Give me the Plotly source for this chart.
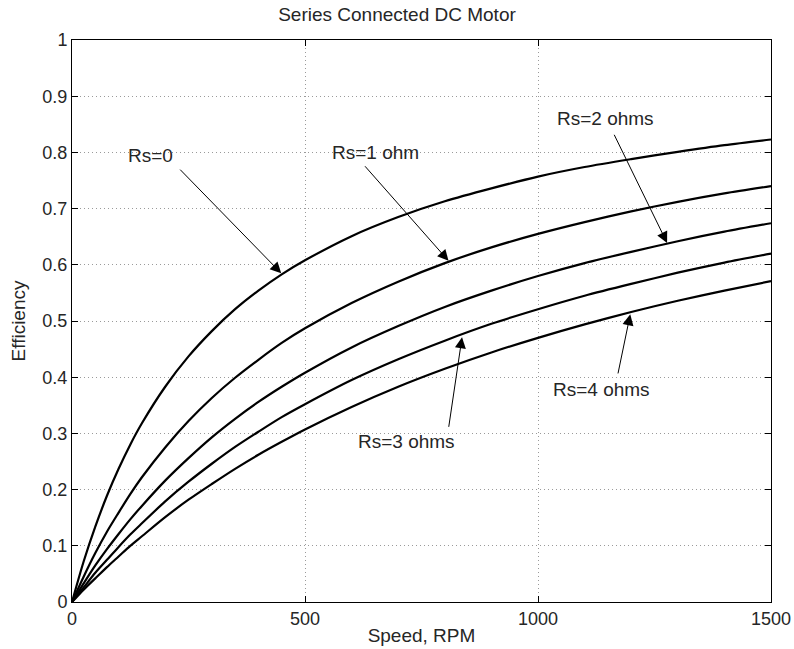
import plotly.graph_objects as go

speed = [0, 25, 50, 75, 100, 125, 150, 200, 250, 300, 350, 400, 450, 500, 600, 700, 800, 900,
         1000, 1100, 1200, 1300, 1400, 1500]
eff_rs0 = [0, 0.072, 0.134, 0.189, 0.237, 0.280, 0.318, 0.383, 0.437, 0.482, 0.521, 0.554, 0.583, 0.608,
           0.651, 0.685, 0.713, 0.736, 0.757, 0.774, 0.788, 0.801, 0.813, 0.823]
eff_rs1 = [0, 0.045, 0.087, 0.125, 0.159, 0.192, 0.222, 0.275, 0.322, 0.363, 0.399, 0.431, 0.461, 0.487,
           0.532, 0.570, 0.603, 0.631, 0.655, 0.676, 0.695, 0.712, 0.727, 0.740]
eff_rs2 = [0, 0.033, 0.065, 0.094, 0.121, 0.147, 0.171, 0.216, 0.256, 0.293, 0.326, 0.356, 0.383, 0.408,
           0.453, 0.491, 0.525, 0.554, 0.580, 0.603, 0.623, 0.642, 0.659, 0.674]
eff_rs3 = [0, 0.026, 0.052, 0.075, 0.098, 0.120, 0.140, 0.179, 0.214, 0.246, 0.276, 0.303, 0.329, 0.352,
           0.395, 0.432, 0.465, 0.495, 0.521, 0.545, 0.566, 0.586, 0.604, 0.620]
eff_rs4 = [0, 0.022, 0.042, 0.062, 0.081, 0.100, 0.117, 0.151, 0.182, 0.210, 0.237, 0.262, 0.285, 0.307,
           0.347, 0.383, 0.415, 0.444, 0.470, 0.494, 0.516, 0.536, 0.554, 0.571]

labels = ["Rs=0", "Rs=1 ohm", "Rs=2 ohms", "Rs=3 ohms", "Rs=4 ohms"]
# label text position, arrow tail, arrow tip (data coords)
label_pos = [(168, 0.795), (652, 0.800), (1144, 0.861), (717, 0.285), (1136, 0.378)]
arrow_tail = [(229, 0.772), (626, 0.778), (1162, 0.834), (808, 0.309), (1171, 0.404)]
arrow_tip = [(449, 0.585), (808, 0.607), (1277, 0.639), (837, 0.471), (1198, 0.512)]

x_ticks = [0, 500, 1000, 1500]
y_ticks = [0, 0.1, 0.2, 0.3, 0.4, 0.5, 0.6, 0.7, 0.8, 0.9, 1]
y_tick_text = ["0", "0.1", "0.2", "0.3", "0.4", "0.5", "0.6", "0.7", "0.8", "0.9", "1"]

FONT = "Liberation Sans, Arial, Helvetica, sans-serif"
TXT = "#262626"

fig = go.Figure()
for ys in [eff_rs0, eff_rs1, eff_rs2, eff_rs3, eff_rs4]:
    fig.add_trace(go.Scatter(x=speed, y=ys, mode="lines",
                             line=dict(color="black", width=2.2, shape="spline", smoothing=0.8),
                             showlegend=False, hoverinfo="skip"))

annotations = []
for lab, lp, tl, tp in zip(labels, label_pos, arrow_tail, arrow_tip):
    annotations.append(dict(x=lp[0], y=lp[1], xref="x", yref="y", text=lab,
                            showarrow=False, font=dict(family=FONT, size=19, color=TXT)))
    annotations.append(dict(x=tp[0], y=tp[1], xref="x", yref="y", ax=tl[0], ay=tl[1],
                            axref="x", ayref="y", text="", showarrow=True,
                            arrowhead=2, arrowsize=2.2, arrowwidth=1, arrowcolor="black",
                            standoff=0, startstandoff=0))

axis_common = dict(showline=True, linecolor="black", linewidth=1, mirror="ticks",
                   ticks="inside", ticklen=6, tickcolor="black",
                   showgrid=True, gridcolor="#9a9a9a", griddash="1px,3px", gridwidth=1,
                   zeroline=False, automargin=False,
                   tickfont=dict(family=FONT, size=18, color=TXT))

fig.update_layout(
    width=794, height=649,
    margin=dict(l=72, r=23, t=40, b=47),
    paper_bgcolor="white", plot_bgcolor="white",
    title=dict(text="Series Connected DC Motor", x=0.5, xanchor="center", y=1 - 14 / 649, yanchor="middle",
               font=dict(family=FONT, size=19, color=TXT)),
    xaxis=dict(range=[0, 1500], tickvals=x_ticks,
               title=dict(text="Speed, RPM", standoff=1, font=dict(family=FONT, size=19, color=TXT)),
               **axis_common),
    yaxis=dict(range=[0, 1], tickvals=y_ticks, ticktext=y_tick_text,
               title=dict(text="Efficiency", standoff=11, font=dict(family=FONT, size=19, color=TXT)),
               **axis_common),
    annotations=annotations,
)

fig.write_html("out.html", config={"displayModeBar": False},
               post_script="document.body.style.margin='0';")
